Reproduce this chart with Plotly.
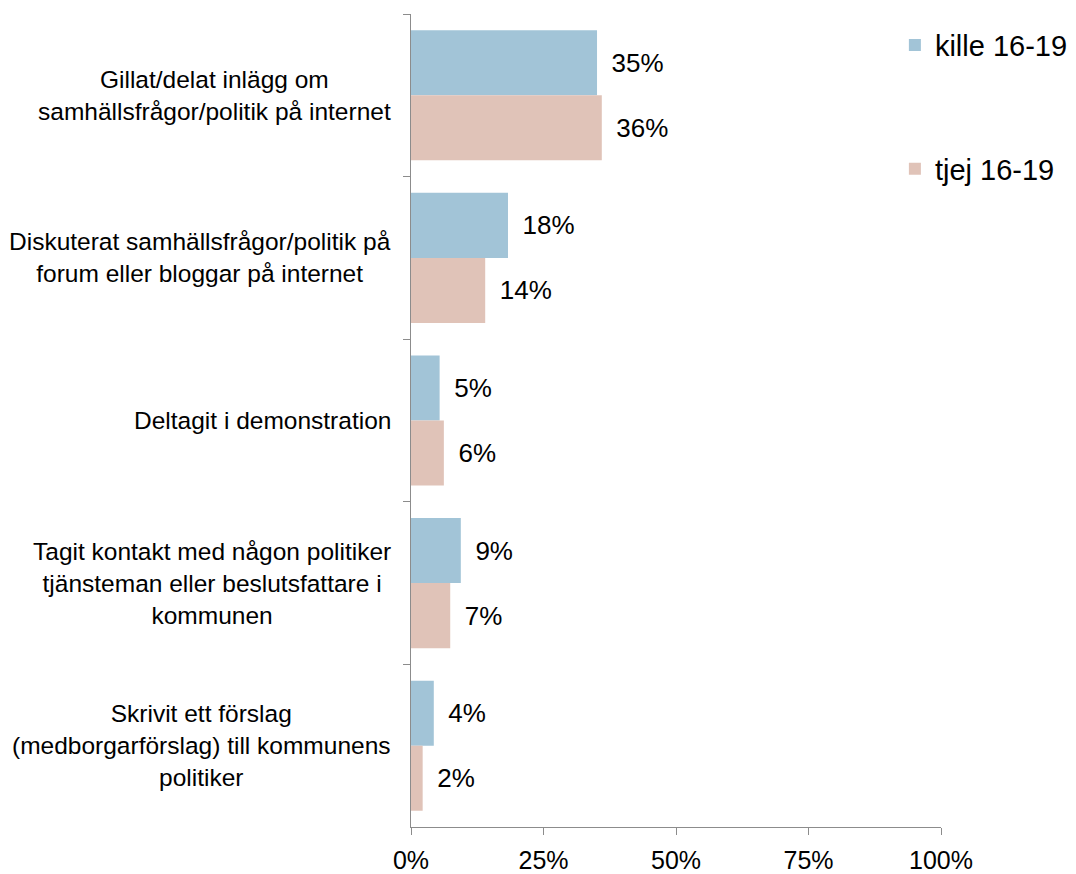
import plotly.graph_objects as go

categories = [
    "Gillat/delat inlägg om<br>samhällsfrågor/politik på internet",
    "Diskuterat samhällsfrågor/politik på<br>forum eller bloggar på internet",
    "Deltagit i demonstration",
    "Tagit kontakt med någon politiker<br>tjänsteman eller beslutsfattare i<br>kommunen",
    "Skrivit ett förslag<br>(medborgarförslag) till kommunens<br>politiker",
]
cat_keys = ["c1", "c2", "c3", "c4", "c5"]
kille = [35.1, 18.3, 5.4, 9.4, 4.3]
tjej = [36.0, 14.0, 6.2, 7.4, 2.2]
series_names = ["kille 16-19", "tjej 16-19"]
colors = ["#A2C4D7", "#E0C3B8"]
x_ticks = [0, 25, 50, 75, 100]
x_tick_labels = ["0%", "25%", "50%", "75%", "100%"]

FONT = "Liberation Sans, Arial, sans-serif"

fig = go.Figure()
for name, vals, col, grp in zip(series_names, [kille, tjej], colors, ["a", "b"]):
    fig.add_trace(go.Bar(
        y=cat_keys, x=vals, name=name, orientation="h",
        marker=dict(color=col, line=dict(width=0)),
        texttemplate=" \u2006%{x:.0f}%", textposition="outside",
        textfont=dict(size=26, color="#000000", family=FONT),
        cliponaxis=False, legendgroup=grp,
    ))

for key, label in zip(cat_keys, categories):
    fig.add_annotation(
        x=0, xref="paper", y=key, yref="y", text=label, showarrow=False,
        xanchor="right", yanchor="middle", align="center", xshift=-18,
        font=dict(size=24.5, color="#000000", family=FONT),
    )

fig.update_layout(
    width=1076, height=874,
    margin=dict(l=403, r=143, t=6, b=55),
    paper_bgcolor="white", plot_bgcolor="white",
    barmode="group", bargap=0.2, bargroupgap=0,
    font=dict(family=FONT, color="#000000"),
    showlegend=True,
    legend=dict(
        x=0.913, y=0.993, xanchor="left", yanchor="top",
        font=dict(size=29, color="#000000", family=FONT),
        tracegroupgap=83, traceorder="grouped",
        bgcolor="rgba(0,0,0,0)",
    ),
    xaxis=dict(
        range=[0, 100], tickvals=x_ticks, ticktext=x_tick_labels,
        showgrid=False, zeroline=False, showline=True, linecolor="#8C8C8C",
        linewidth=1, ticks="outside", ticklen=7, tickcolor="#8C8C8C",
        tickfont=dict(size=25, color="#000000", family=FONT),
        ticklabelstandoff=4,
    ),
    yaxis=dict(
        autorange="reversed", showticklabels=False, showgrid=False,
        zeroline=False, showline=True, linecolor="#8C8C8C", linewidth=1,
        ticks="outside", ticklen=7, tickcolor="#8C8C8C", tickson="boundaries",
    ),
)

fig.write_html("out.html")
